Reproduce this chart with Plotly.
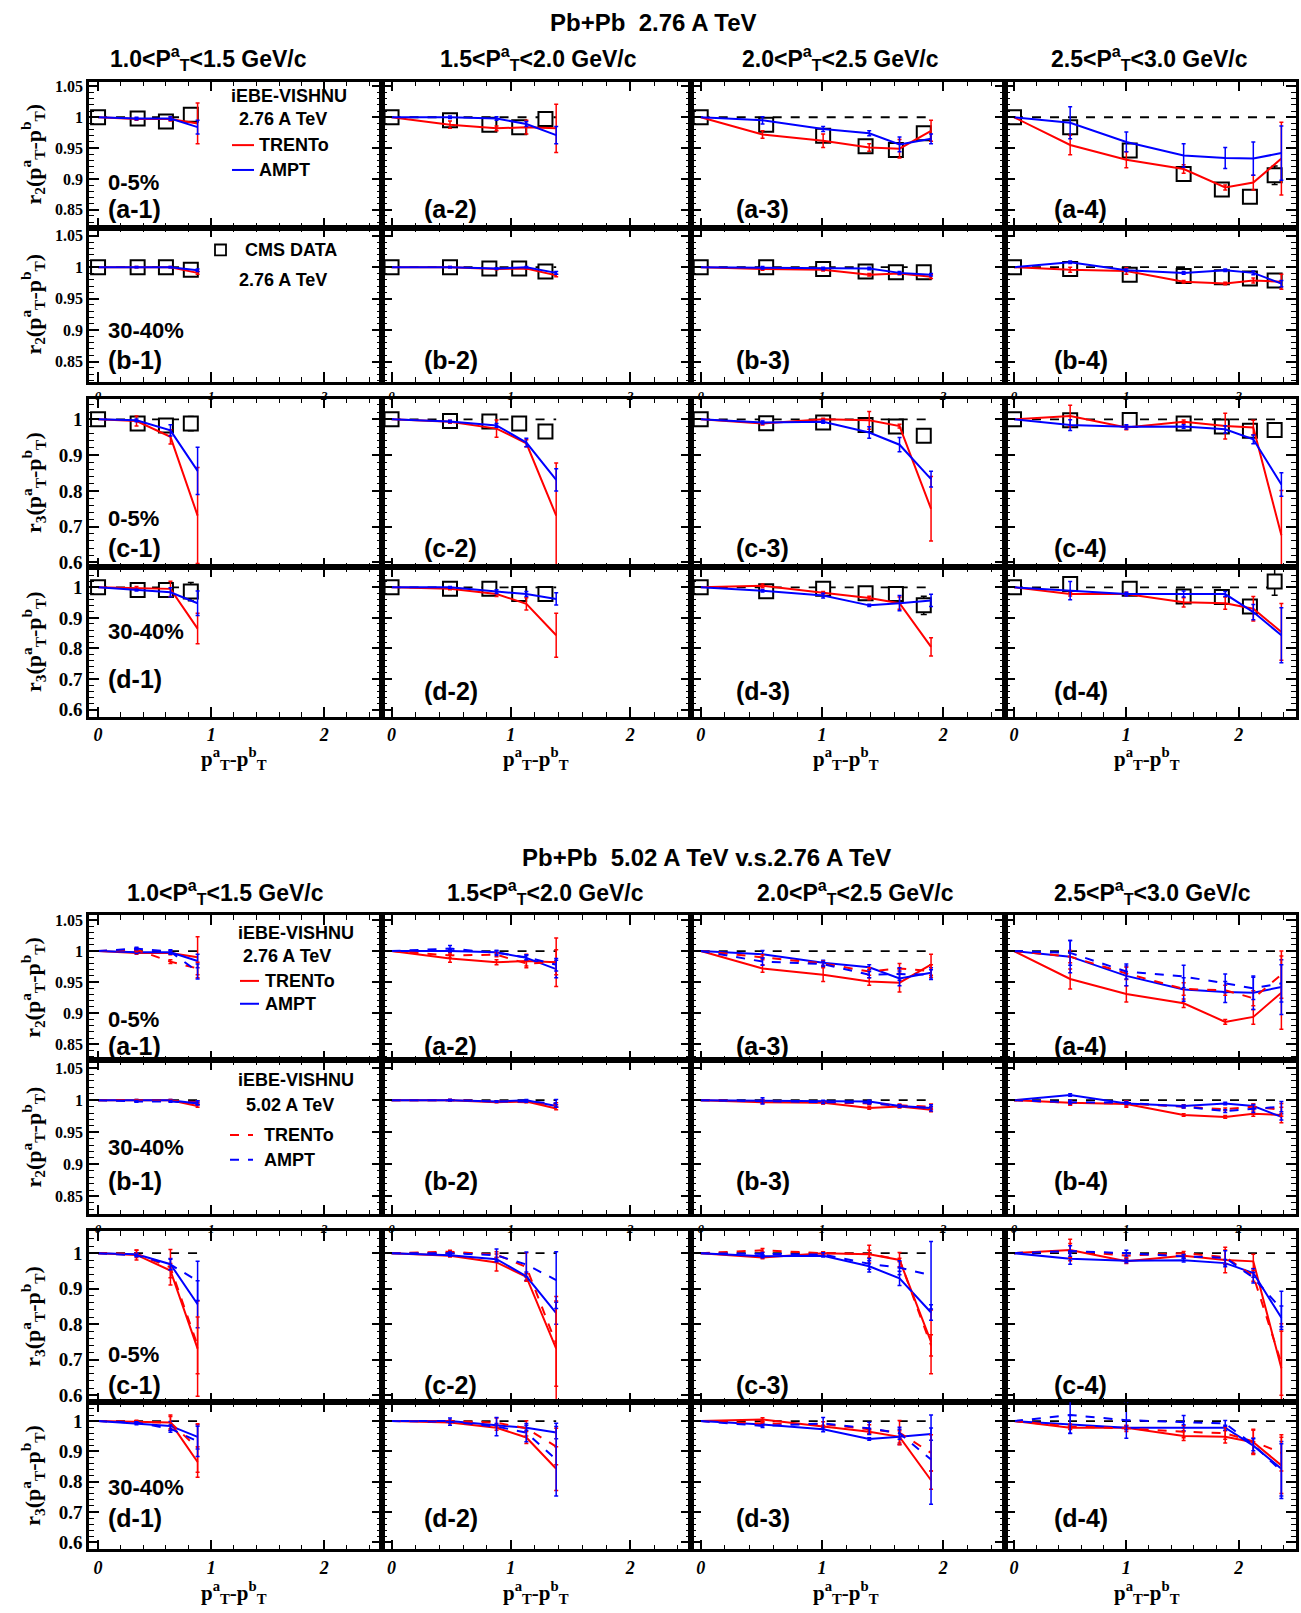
import plotly.graph_objects as go

# ---------------- data ----------------
# x positions (p_T^a - p_T^b) of the model points and of the CMS points, per p_T^a bin
model_x = [[0, 0.34, 0.64, 0.88],
           [0, 0.49, 0.88, 1.13, 1.38],
           [0, 0.51, 1.01, 1.39, 1.64, 1.90],
           [0, 0.50, 1.00, 1.51, 1.88, 2.13, 2.38]]
cms_x = [[0, 0.35, 0.60, 0.82],
         [0, 0.49, 0.82, 1.07, 1.29],
         [0, 0.54, 1.01, 1.36, 1.61, 1.84],
         [0, 0.50, 1.03, 1.51, 1.85, 2.10, 2.32]]

col_headers = ['1.0&lt;P<sup>a</sup><sub>T</sub>&lt;1.5 GeV/c',
               '1.5&lt;P<sup>a</sup><sub>T</sub>&lt;2.0 GeV/c',
               '2.0&lt;P<sup>a</sup><sub>T</sub>&lt;2.5 GeV/c',
               '2.5&lt;P<sup>a</sup><sub>T</sub>&lt;3.0 GeV/c']

r2_tickvals = [0.85, 0.9, 0.95, 1.0, 1.05]
r2_ticktext = ['0.85', '0.9', '0.95', '1', '1.05']
r3_tickvals = [0.6, 0.7, 0.8, 0.9, 1.0]
r3_ticktext = ['0.6', '0.7', '0.8', '0.9', '1']
x_tickvals = [0, 1, 2]
x_ticktext = ['0', '1', '2']

# r2, 0-5%
r2_05_cms = [[1.0, 0.998, 0.993, 1.004], [1.0, 0.995, 0.988, 0.984, 0.997],
             [1.0, 0.988, 0.970, 0.953, 0.947, 0.974], [1.0, 0.984, 0.946, 0.908, 0.883, 0.871, 0.906]]
r2_05_cms_err = [[0.002, 0.002, 0.003, 0.004], [0.002, 0.003, 0.003, 0.003, 0.004],
                 [0.002, 0.004, 0.004, 0.004, 0.005, 0.006], [0.002, 0.006, 0.005, 0.005, 0.005, 0.005, 0.015]]
r2_05_trento276 = [[1.0, 0.997, 0.997, 0.990], [1.0, 0.988, 0.982, 0.984, 0.982],
                   [1.0, 0.972, 0.962, 0.951, 0.949, 0.978], [1.0, 0.955, 0.931, 0.916, 0.886, 0.894, 0.933]]
r2_05_trento276_err = [[0, 0.002, 0.003, 0.033], [0, 0.006, 0.004, 0.011, 0.039],
                       [0, 0.006, 0.011, 0.006, 0.015, 0.017], [0, 0.016, 0.013, 0.007, 0.004, 0.012, 0.059]]
r2_05_ampt276 = [[1.0, 0.998, 0.998, 0.984], [1.0, 1.0, 0.998, 0.989, 0.971],
                 [1.0, 0.995, 0.981, 0.974, 0.956, 0.965], [1.0, 0.991, 0.960, 0.938, 0.934, 0.933, 0.942]]
r2_05_ampt276_err = [[0, 0.002, 0.003, 0.011], [0, 0.002, 0.003, 0.004, 0.014],
                     [0, 0.006, 0.004, 0.004, 0.012, 0.008], [0, 0.026, 0.016, 0.019, 0.017, 0.027, 0.044]]
r2_05_trento502 = [[1.0, 1.002, 0.983, 0.972], [1.0, 0.993, 0.994, 0.980, 0.982],
                   [1.0, 0.990, 0.980, 0.967, 0.972, 0.968], [1.0, 0.991, 0.964, 0.939, 0.937, 0.924, 0.962]]
r2_05_trento502_err = [[0, 0.003, 0.003, 0.010], [0, 0.004, 0.003, 0.004, 0.020],
                       [0, 0.004, 0.004, 0.006, 0.008, 0.010], [0, 0.010, 0.010, 0.010, 0.008, 0.012, 0.038]]
r2_05_ampt502 = [[1.0, 1.004, 0.999, 0.967], [1.0, 1.004, 0.997, 0.990, 0.978],
                 [1.0, 0.983, 0.979, 0.962, 0.963, 0.962], [1.0, 0.997, 0.967, 0.959, 0.948, 0.940, 0.948]]
r2_05_ampt502_err = [[0, 0.002, 0.003, 0.012], [0, 0.005, 0.004, 0.004, 0.010],
                     [0, 0.006, 0.004, 0.005, 0.010, 0.008], [0, 0.020, 0.012, 0.018, 0.015, 0.018, 0.030]]

# r2, 30-40%
r2_3040_cms = [[1.0, 1.0, 1.0, 0.996], [1.0, 1.0, 0.998, 0.998, 0.993],
               [1.0, 1.0, 0.997, 0.993, 0.992, 0.992], [1.0, 0.997, 0.988, 0.986, 0.984, 0.982, 0.979]]
r2_3040_cms_err = [[0.002, 0.002, 0.002, 0.002], [0.002, 0.002, 0.002, 0.002, 0.002],
                   [0.002, 0.002, 0.002, 0.002, 0.002, 0.002], [0.002, 0.002, 0.002, 0.002, 0.002, 0.002, 0.004]]
r2_3040_trento276 = [[1.0, 1.0, 1.0, 0.991], [1.0, 1.0, 0.997, 0.998, 0.987],
                     [1.0, 0.997, 0.996, 0.988, 0.990, 0.985], [1.0, 0.996, 0.994, 0.977, 0.974, 0.979, 0.977]]
r2_3040_trento276_err = [[0, 0.001, 0.001, 0.002], [0, 0.001, 0.001, 0.001, 0.002],
                         [0, 0.002, 0.002, 0.002, 0.002, 0.003], [0, 0.004, 0.005, 0.002, 0.002, 0.004, 0.012]]
r2_3040_ampt276 = [[1.0, 1.0, 1.0, 0.995], [1.0, 1.0, 0.998, 1.0, 0.991],
                   [1.0, 0.999, 0.998, 0.998, 0.991, 0.988], [1.0, 1.008, 0.995, 0.991, 0.995, 0.991, 0.974]]
r2_3040_ampt276_err = [[0, 0.001, 0.001, 0.002], [0, 0.001, 0.001, 0.001, 0.002],
                       [0, 0.002, 0.002, 0.002, 0.002, 0.002], [0, 0.002, 0.002, 0.002, 0.002, 0.003, 0.005]]
r2_3040_trento502 = [[1.0, 0.999, 0.999, 0.997], [1.0, 1.0, 0.998, 0.997, 0.993],
                     [1.0, 0.998, 0.996, 0.995, 0.992, 0.990], [1.0, 0.996, 0.995, 0.990, 0.986, 0.990, 0.985]]
r2_3040_trento502_err = [[0, 0.001, 0.001, 0.002], [0, 0.001, 0.001, 0.001, 0.003],
                         [0, 0.002, 0.002, 0.002, 0.002, 0.004], [0, 0.003, 0.004, 0.002, 0.002, 0.004, 0.010]]
r2_3040_ampt502 = [[1.0, 0.998, 0.998, 0.996], [1.0, 1.0, 0.998, 0.998, 0.995],
                   [1.0, 0.999, 0.997, 0.996, 0.991, 0.988], [1.0, 0.997, 0.996, 0.990, 0.983, 0.987, 0.990]]
r2_3040_ampt502_err = [[0, 0.001, 0.001, 0.003], [0, 0.001, 0.001, 0.001, 0.006],
                       [0, 0.005, 0.002, 0.002, 0.002, 0.005], [0, 0.003, 0.002, 0.002, 0.002, 0.006, 0.008]]

# r3, 0-5%
r3_05_cms = [[1.0, 0.988, 0.983, 0.988], [1.0, 0.995, 0.994, 0.988, 0.966],
             [1.0, 0.989, 0.991, 0.984, 0.980, 0.954], [1.0, 0.997, 0.998, 0.988, 0.980, 0.968, 0.970]]
r3_05_cms_err = [[0.003, 0.005, 0.006, 0.020], [0.003, 0.004, 0.005, 0.008, 0.010],
                 [0.003, 0.005, 0.005, 0.008, 0.008, 0.011], [0.003, 0.005, 0.005, 0.006, 0.008, 0.010, 0.012]]
r3_05_trento276 = [[1.0, 0.995, 0.951, 0.731], [1.0, 0.993, 0.974, 0.933, 0.731],
                   [1.0, 0.988, 1.0, 0.997, 0.981, 0.750], [1.0, 1.009, 0.977, 0.993, 0.981, 0.977, 0.676]]
r3_05_trento276_err = [[0, 0.014, 0.020, 0.134], [0, 0.004, 0.024, 0.010, 0.147],
                       [0, 0.004, 0.003, 0.025, 0.005, 0.090], [0, 0.030, 0.006, 0.005, 0.036, 0.020, 0.125]]
r3_05_ampt276 = [[1.0, 0.997, 0.969, 0.856], [1.0, 0.994, 0.983, 0.935, 0.831],
                 [1.0, 0.991, 0.993, 0.963, 0.929, 0.833], [1.0, 0.984, 0.979, 0.980, 0.972, 0.944, 0.818]]
r3_05_ampt276_err = [[0, 0.004, 0.016, 0.066], [0, 0.003, 0.005, 0.012, 0.031],
                     [0, 0.004, 0.004, 0.016, 0.020, 0.022], [0, 0.015, 0.006, 0.005, 0.010, 0.012, 0.033]]
r3_05_trento502 = [[1.0, 0.998, 0.960, 0.740], [1.0, 1.004, 0.996, 0.961, 0.745],
                   [1.0, 1.008, 1.0, 0.998, 0.982, 0.740], [1.0, 1.007, 0.993, 1.0, 0.989, 0.936, 0.690]]
r3_05_trento502_err = [[0, 0.010, 0.050, 0.080], [0, 0.004, 0.008, 0.040, 0.120],
                       [0, 0.005, 0.004, 0.010, 0.020, 0.030], [0, 0.020, 0.006, 0.005, 0.020, 0.015, 0.090]]
r3_05_ampt502 = [[1.0, 0.994, 0.968, 0.922], [1.0, 1.0, 0.994, 0.968, 0.924],
                 [1.0, 0.998, 0.996, 0.970, 0.959, 0.938], [1.0, 1.006, 1.0, 0.991, 0.987, 0.931, 0.843]]
r3_05_ampt502_err = [[0, 0.004, 0.015, 0.055], [0, 0.003, 0.018, 0.035, 0.080],
                     [0, 0.004, 0.005, 0.015, 0.020, 0.095], [0, 0.015, 0.008, 0.005, 0.020, 0.015, 0.050]]

# r3, 30-40%
r3_3040_cms = [[1.0, 0.991, 0.991, 0.986], [1.0, 0.995, 0.995, 0.978, 0.978],
               [1.0, 0.987, 0.995, 0.981, 0.978, 0.941], [1.0, 1.011, 0.995, 0.970, 0.968, 0.937, 1.019]]
r3_3040_cms_err = [[0.003, 0.004, 0.005, 0.030], [0.003, 0.004, 0.005, 0.008, 0.020],
                   [0.003, 0.004, 0.005, 0.008, 0.010, 0.030], [0.003, 0.010, 0.008, 0.008, 0.008, 0.010, 0.045]]
r3_3040_trento276 = [[1.0, 0.998, 0.995, 0.865], [1.0, 0.995, 0.978, 0.946, 0.843],
                     [1.0, 1.005, 0.982, 0.965, 0.948, 0.805], [1.0, 0.978, 0.978, 0.951, 0.948, 0.930, 0.854]]
r3_3040_trento276_err = [[0, 0.005, 0.025, 0.050], [0, 0.003, 0.008, 0.020, 0.072],
                         [0, 0.006, 0.004, 0.006, 0.020, 0.030], [0, 0.006, 0.006, 0.015, 0.020, 0.040, 0.093]]
r3_3040_ampt276 = [[1.0, 0.991, 0.984, 0.948], [1.0, 1.0, 0.986, 0.978, 0.962],
                   [1.0, 0.989, 0.973, 0.941, 0.948, 0.957], [1.0, 0.989, 0.978, 0.978, 0.978, 0.919, 0.843]]
r3_3040_ampt276_err = [[0, 0.003, 0.015, 0.040], [0, 0.003, 0.006, 0.008, 0.020],
                       [0, 0.004, 0.008, 0.004, 0.025, 0.020], [0, 0.030, 0.006, 0.010, 0.008, 0.025, 0.090]]
r3_3040_trento502 = [[1.0, 0.998, 0.995, 0.911], [1.0, 1.0, 0.995, 0.976, 0.916],
                     [1.0, 0.992, 0.990, 0.973, 0.962, 0.895], [1.0, 0.982, 0.976, 0.965, 0.960, 0.933, 0.895]]
r3_3040_trento502_err = [[0, 0.003, 0.020, 0.080], [0, 0.003, 0.015, 0.025, 0.060],
                         [0, 0.005, 0.008, 0.015, 0.040, 0.060], [0, 0.008, 0.010, 0.020, 0.020, 0.040, 0.060]]
r3_3040_ampt502 = [[1.0, 0.995, 0.975, 0.933], [1.0, 0.998, 0.982, 0.962, 0.873],
                   [1.0, 0.984, 0.992, 0.976, 0.960, 0.873], [1.0, 1.020, 1.003, 0.998, 0.992, 0.922, 0.835]]
r3_3040_ampt502_err = [[0, 0.003, 0.012, 0.050], [0, 0.012, 0.030, 0.030, 0.120],
                       [0, 0.005, 0.020, 0.020, 0.020, 0.147], [0, 0.060, 0.060, 0.020, 0.010, 0.020, 0.090]]

# ---------------- layout geometry (pixels of the 1301x1613 page) ----------------
W, H = 1301, 1613
SANS = 'Liberation Sans, Arial, sans-serif'
SERIF = 'Liberation Serif, Times New Roman, serif'
RED, BLUE = '#ff0000', '#0000ff'

PANEL_X = [(89, 382), (382, 691), (691, 1005), (1005, 1296)]
PANEL_Y = {'top': [(78, 225), (225, 380), (397, 567), (567, 717)],
           'bottom': [(917, 1063), (1063, 1218), (1235, 1407), (1407, 1555)]}
Y_RANGE = {'top': [(0.821, 1.058), (0.818, 1.063), (0.586, 1.058), (0.577, 1.065)],
           'bottom': [(0.824, 1.0575), (0.822, 1.062), (0.580, 1.0615), (0.577, 1.062)]}
X_RANGE = [-0.08, 2.51]

rows = [
    dict(tag='a', obs=2, cent='0-5%', cms=r2_05_cms, cms_err=r2_05_cms_err,
         t276=r2_05_trento276, t276e=r2_05_trento276_err, a276=r2_05_ampt276, a276e=r2_05_ampt276_err,
         t502=r2_05_trento502, t502e=r2_05_trento502_err, a502=r2_05_ampt502, a502e=r2_05_ampt502_err),
    dict(tag='b', obs=2, cent='30-40%', cms=r2_3040_cms, cms_err=r2_3040_cms_err,
         t276=r2_3040_trento276, t276e=r2_3040_trento276_err, a276=r2_3040_ampt276, a276e=r2_3040_ampt276_err,
         t502=r2_3040_trento502, t502e=r2_3040_trento502_err, a502=r2_3040_ampt502, a502e=r2_3040_ampt502_err),
    dict(tag='c', obs=3, cent='0-5%', cms=r3_05_cms, cms_err=r3_05_cms_err,
         t276=r3_05_trento276, t276e=r3_05_trento276_err, a276=r3_05_ampt276, a276e=r3_05_ampt276_err,
         t502=r3_05_trento502, t502e=r3_05_trento502_err, a502=r3_05_ampt502, a502e=r3_05_ampt502_err),
    dict(tag='d', obs=3, cent='30-40%', cms=r3_3040_cms, cms_err=r3_3040_cms_err,
         t276=r3_3040_trento276, t276e=r3_3040_trento276_err, a276=r3_3040_ampt276, a276e=r3_3040_ampt276_err,
         t502=r3_3040_trento502, t502e=r3_3040_trento502_err, a502=r3_3040_ampt502, a502e=r3_3040_ampt502_err),
]


def px(x):
    return x / W


def py(y):
    return 1 - y / H


def ann(text, x, y, size, family=SANS, xanchor='center', angle=0):
    return dict(text=text, x=px(x), y=py(y), xref='paper', yref='paper', showarrow=False,
                xanchor=xanchor, yanchor='middle', textangle=angle,
                font=dict(family=family, size=size, color='black'))


def model_trace(x, y, err, color, dash, xa, ya):
    return go.Scatter(x=x, y=y, mode='lines', xaxis=xa, yaxis=ya, showlegend=False,
                      line=dict(color=color, width=2, dash=dash),
                      error_y=dict(type='data', array=err, color=color, thickness=1.5, width=2))


fig = go.Figure()
layout = {}
annotations = []
shapes = []

n = 0
for grid in ('top', 'bottom'):
    for r, row in enumerate(rows):
        y0, y1 = PANEL_Y[grid][r]
        for c in range(4):
            n += 1
            sfx = '' if n == 1 else str(n)
            xa, ya = 'x' + sfx, 'y' + sfx
            x0, x1 = PANEL_X[c]
            bottom_row = row['tag'] in ('b', 'd')
            layout['xaxis' + sfx] = dict(
                domain=[px(x0), px(x1)], anchor=ya, range=X_RANGE,
                showline=True, linecolor='black', linewidth=2.5, mirror='ticks',
                ticks='inside', ticklen=10, tickwidth=1.5, tickcolor='black',
                tickmode='array', tickvals=x_tickvals, ticktext=x_ticktext,
                showticklabels=bottom_row,
                tickfont=dict(family=SERIF, size=13 if row['tag'] == 'b' else 18,
                              color='black', weight='bold', style='italic'),
                minor=dict(dtick=0.2, tick0=0, ticks='inside', ticklen=5, tickwidth=1, tickcolor='black'),
                showgrid=False, zeroline=False)
            r2 = row['obs'] == 2
            layout['yaxis' + sfx] = dict(
                domain=[py(y1), py(y0)], anchor=xa, range=list(Y_RANGE[grid][r]),
                showline=True, linecolor='black', linewidth=2.5, mirror='ticks',
                ticks='inside', ticklen=10, tickwidth=1.5, tickcolor='black',
                tickmode='array', tickvals=r2_tickvals if r2 else r3_tickvals,
                ticktext=r2_ticktext if r2 else r3_ticktext,
                showticklabels=(c == 0),
                tickfont=dict(family=SERIF, size=16 if r2 else 19, color='black', weight='bold'),
                minor=dict(dtick=0.01 if r2 else 0.02, tick0=0, ticks='inside', ticklen=5,
                           tickwidth=1, tickcolor='black'),
                showgrid=False, zeroline=False)

            mx = model_x[c]
            fig.add_trace(go.Scatter(x=[mx[0], mx[-1]], y=[1, 1], mode='lines', xaxis=xa, yaxis=ya,
                                     showlegend=False, line=dict(color='black', width=1.8, dash='dash')))
            if grid == 'top':
                # white-filled squares: the error bar is only visible outside the box, lines pass over it
                fig.add_trace(go.Scatter(
                    x=cms_x[c], y=row['cms'][c], mode='markers', xaxis=xa, yaxis=ya, showlegend=False,
                    marker=dict(symbol='square', size=14, color='white', line=dict(width=2, color='black')),
                    error_y=dict(type='data', array=row['cms_err'][c], color='black', thickness=1.5, width=3)))
            fig.add_trace(model_trace(mx, row['t276'][c], row['t276e'][c], RED, 'solid', xa, ya))
            fig.add_trace(model_trace(mx, row['a276'][c], row['a276e'][c], BLUE, 'solid', xa, ya))
            if grid == 'bottom':
                fig.add_trace(model_trace(mx, row['t502'][c], row['t502e'][c], RED, 'dash', xa, ya))
                fig.add_trace(model_trace(mx, row['a502'][c], row['a502e'][c], BLUE, 'dash', xa, ya))

# ---------------- texts ----------------
label_x = [106, 422, 734, 1052]
label_y = {'top': [[206] * 4, [358] * 4, [547] * 4, [679, 691, 691, 691]],
           'bottom': [[1048] * 4, [1184] * 4, [1390] * 4, [1523] * 4]}
cent_y = {'top': [180, 329, 518, 631], 'bottom': [1022, 1151, 1359, 1493]}
head_x = {'top': [208, 538, 840, 1149], 'bottom': [225, 545, 855, 1152]}
head_y = {'top': 54, 'bottom': 894}
xtitle_x = [234, 536, 846, 1147]
xtitle_y = {'top': 759, 'bottom': 1598}
ylabels = {2: 'r<sub>2</sub>(p<sup>a</sup><sub>T</sub>-p<sup>b</sup><sub>T</sub>)',
           3: 'r<sub>3</sub>(p<sup>a</sup><sub>T</sub>-p<sup>b</sup><sub>T</sub>)'}

annotations.append(ann('<b>Pb+Pb  2.76 A TeV</b>', 653, 19, 24))
annotations.append(ann('<b>Pb+Pb  5.02 A TeV v.s.2.76 A TeV</b>', 706, 859, 24))

for grid in ('top', 'bottom'):
    for c in range(4):
        annotations.append(ann('<b>%s</b>' % col_headers[c], head_x[grid][c], head_y[grid], 23))
        annotations.append(ann('<b>p<sup>a</sup><sub>T</sub>-p<sup>b</sup><sub>T</sub></b>',
                               xtitle_x[c], xtitle_y[grid], 21, family=SERIF))
    for r, row in enumerate(rows):
        y0, y1 = PANEL_Y[grid][r]
        annotations.append(ann('<b>%s</b>' % ylabels[row['obs']], 33, (y0 + y1) / 2, 22,
                               family=SERIF, angle=-90))
        annotations.append(ann('<b>%s</b>' % row['cent'], 106, cent_y[grid][r], 22, xanchor='left'))
        for c in range(4):
            annotations.append(ann('<b>(%s-%d)</b>' % (row['tag'], c + 1), label_x[c],
                                   label_y[grid][r][c], 25, xanchor='left'))


# legends
def legend_line(x0, x1, y, color, dash):
    shapes.append(dict(type='line', xref='paper', yref='paper', x0=px(x0), x1=px(x1),
                       y0=py(y), y1=py(y), line=dict(color=color, width=2, dash=dash)))


annotations.append(ann('<b>iEBE-VISHNU</b>', 289, 93, 18))
annotations.append(ann('<b>2.76 A TeV</b>', 283, 116, 18))
legend_line(232, 254, 142, RED, 'solid')
annotations.append(ann('<b>TRENTo</b>', 257, 142, 18, xanchor='left'))
legend_line(232, 254, 167, BLUE, 'solid')
annotations.append(ann('<b>AMPT</b>', 257, 167, 18, xanchor='left'))
shapes.append(dict(type='rect', xref='paper', yref='paper', x0=px(215), x1=px(226),
                   y0=py(253), y1=py(242), line=dict(color='black', width=1.8)))
annotations.append(ann('<b>CMS DATA</b>', 243, 248, 18, xanchor='left'))
annotations.append(ann('<b>2.76 A TeV</b>', 283, 278, 18))

annotations.append(ann('<b>iEBE-VISHNU</b>', 296, 935, 18))
annotations.append(ann('<b>2.76 A TeV</b>', 287, 958, 18))
legend_line(240, 259, 983, RED, 'solid')
annotations.append(ann('<b>TRENTo</b>', 263, 983, 18, xanchor='left'))
legend_line(240, 259, 1006, BLUE, 'solid')
annotations.append(ann('<b>AMPT</b>', 263, 1006, 18, xanchor='left'))
annotations.append(ann('<b>iEBE-VISHNU</b>', 296, 1083, 18))
annotations.append(ann('<b>5.02 A TeV</b>', 290, 1108, 18))
legend_line(230, 253, 1138, RED, 'dash')
annotations.append(ann('<b>TRENTo</b>', 262, 1138, 18, xanchor='left'))
legend_line(230, 253, 1163, BLUE, 'dash')
annotations.append(ann('<b>AMPT</b>', 262, 1163, 18, xanchor='left'))

fig.update_layout(width=W, height=H, margin=dict(l=0, r=0, t=0, b=0),
                  paper_bgcolor='white', plot_bgcolor='white',
                  annotations=annotations, shapes=shapes, **layout)

# pin the graph to the page's top-left corner (no body margin)
pin = ("document.body.style.margin='0';"
       "var d=document.getElementById('{plot_id}');"
       "d.style.position='absolute';d.style.left='0px';d.style.top='0px';")
fig.write_html("out.html", post_script=pin, config={'displayModeBar': False})
